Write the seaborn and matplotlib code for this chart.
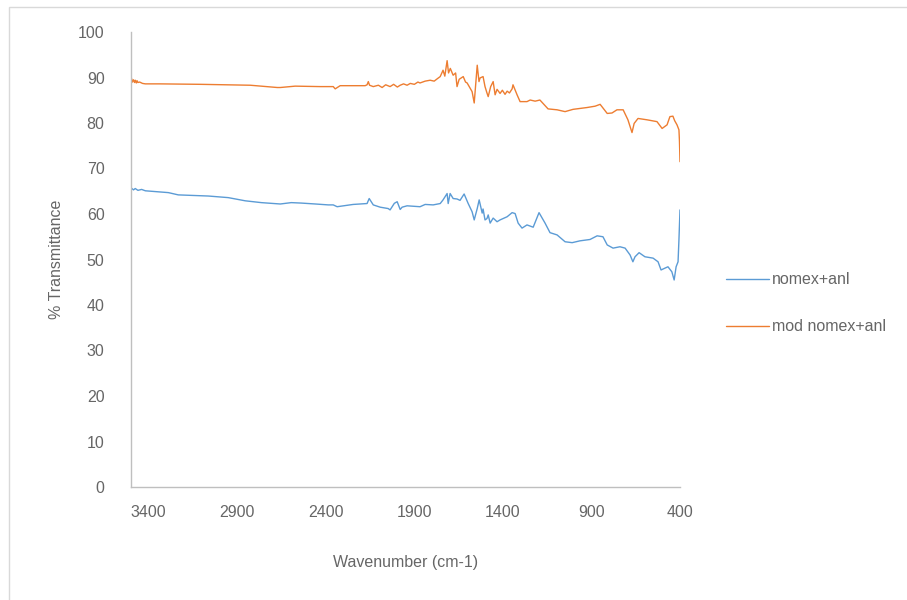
import numpy as np
import pandas as pd
import matplotlib
matplotlib.use("Agg")
import matplotlib.pyplot as plt
import seaborn as sns
from matplotlib.patches import Rectangle

# FTIR spectra (wavenumber cm-1, % transmittance)
wn_blue = [3498, 3486, 3476, 3461, 3440, 3419, 3289, 3233, 3063, 2951, 2855, 2764, 2657, 2595, 2538, 2459,
           2386, 2358, 2336, 2246, 2167, 2155, 2132, 2093, 2048, 2037, 2013, 1997, 1980, 1969, 1941, 1868,
           1839, 1794, 1754, 1738, 1715, 1709, 1698, 1681, 1659, 1642, 1619, 1596, 1574, 1562, 1545, 1534,
           1517, 1512, 1501, 1490, 1483, 1472, 1455, 1433, 1416, 1376, 1348, 1331, 1314, 1292, 1264, 1229,
           1196, 1162, 1134, 1094, 1049, 1009, 965, 908, 868, 835, 811, 778, 739, 710, 682, 666, 654, 631,
           598, 552, 524, 507, 485, 468, 446, 433, 422, 411, 406, 400]
t_blue = [65.7, 65.3, 65.6, 65.2, 65.4, 65.1, 64.7, 64.2, 63.95, 63.6, 62.9, 62.5, 62.2, 62.5, 62.4, 62.2,
          62.0, 62.0, 61.6, 62.1, 62.3, 63.4, 62.0, 61.5, 61.2, 60.9, 62.35, 62.7, 61.0, 61.5, 61.8, 61.6,
          62.1, 62.0, 62.3, 63.1, 64.5, 62.3, 64.5, 63.4, 63.3, 63.0, 64.4, 62.3, 60.5, 58.7, 61.2, 63.1,
          60.2, 61.1, 58.7, 59.0, 59.8, 58.0, 59.1, 58.3, 58.7, 59.4, 60.3, 60.1, 58.0, 56.9, 57.6, 57.1,
          60.3, 58.0, 55.9, 55.4, 53.9, 53.7, 54.1, 54.4, 55.2, 55.0, 53.2, 52.5, 52.8, 52.5, 51.0, 49.5,
          50.6, 51.5, 50.6, 50.3, 49.5, 47.7, 48.1, 48.4, 47.3, 45.5, 48.4, 49.5, 54.3, 60.9]

wn_orange = [3498, 3492, 3486, 3480, 3476, 3470, 3466, 3461, 3451, 3435, 3419, 3339, 3109, 2826, 2674, 2657,
             2573, 2431, 2358, 2347, 2319, 2178, 2167, 2160, 2153, 2132, 2103, 2082, 2062, 2037, 2017, 1996,
             1980, 1961, 1941, 1923, 1900, 1880, 1868, 1839, 1811, 1788, 1768, 1754, 1738, 1728, 1715, 1707,
             1697, 1681, 1667, 1659, 1647, 1624, 1611, 1602, 1574, 1562, 1545, 1535, 1529, 1512, 1501, 1490,
             1483, 1469, 1455, 1444, 1433, 1416, 1403, 1388, 1376, 1363, 1348, 1343, 1320, 1303, 1264, 1246,
             1218, 1191, 1145, 1094, 1049, 1004, 925, 879, 851, 811, 784, 756, 721, 694, 671, 659, 637, 586,
             530, 501, 473, 457, 440, 430, 417, 406, 403, 400]
t_orange = [89.9, 89.0, 89.5, 88.9, 89.4, 88.8, 89.3, 88.9, 89.0, 88.7, 88.6, 88.6, 88.5, 88.3, 87.8, 87.8,
            88.1, 88.0, 88.0, 87.5, 88.2, 88.2, 88.4, 89.1, 88.3, 88.0, 88.3, 87.8, 88.4, 88.0, 88.5, 87.9,
            88.3, 88.6, 88.3, 88.7, 88.5, 89.0, 88.8, 89.2, 89.4, 89.2, 89.8, 90.2, 91.6, 90.3, 93.7, 91.0,
            92.0, 90.5, 91.0, 88.0, 89.6, 90.2, 89.0, 88.8, 86.9, 84.4, 92.7, 89.1, 89.9, 90.2, 88.0, 86.6,
            85.8, 88.0, 89.1, 86.2, 87.4, 86.5, 87.2, 86.3, 87.0, 86.6, 87.5, 88.4, 86.2, 84.7, 84.7, 85.05,
            84.8, 85.05, 83.1, 82.9, 82.5, 83.0, 83.4, 83.7, 84.1, 82.1, 82.2, 82.9, 82.9, 80.7, 77.9, 79.9,
            81.0, 80.7, 80.3, 78.8, 79.6, 81.4, 81.5, 80.5, 79.6, 78.5, 76.0, 71.5]

series_names = ["nomex+anl", "mod nomex+anl"]
x_ticks = [3400, 2900, 2400, 1900, 1400, 900, 400]
y_ticks = list(range(0, 101, 10))

df = pd.concat([
    pd.DataFrame({"wn": wn_blue, "T": t_blue, "sample": series_names[0]}),
    pd.DataFrame({"wn": wn_orange, "T": t_orange, "sample": series_names[1]}),
], ignore_index=True)

sns.set_style("white")
plt.rcParams['font.family'] = ['Liberation Sans', 'DejaVu Sans']
txt = '#666666'
grey = '#BFBFBF'

fig = plt.figure(figsize=(9.07, 6.0), dpi=100)
ax = fig.add_axes([131/907, 1-487/600, 549/907, 455/600])

sns.lineplot(data=df, x="wn", y="T", hue="sample", hue_order=series_names,
             palette=['#5B9BD5', '#ED7D31'], estimator=None, sort=False,
             linewidth=1.0, ax=ax)

ax.set_xlim(3500, 400)
ax.set_ylim(0, 100)
ax.set_xticks(x_ticks)
ax.set_yticks(y_ticks)
ax.tick_params(axis='both', colors=grey, labelcolor=txt, labelsize=11.5,
               length=5, width=1, direction='out')
ax.tick_params(axis='x', pad=8)
ax.tick_params(axis='y', pad=14)
for s in ['top', 'right']:
    ax.spines[s].set_visible(False)
for s in ['left', 'bottom']:
    ax.spines[s].set_color(grey)
    ax.spines[s].set_linewidth(1)

ax.set_xlabel("Wavenumber (cm-1)", color=txt, fontsize=11.5, labelpad=25)
ax.set_ylabel("% Transmittance", color=txt, fontsize=11.5, labelpad=10)

h, l = ax.get_legend_handles_labels()
ax.legend(h, l, loc='center left', bbox_to_anchor=(1.069, 0.404), frameon=False,
          fontsize=11.5, labelcolor=txt, handlelength=2.7, handletextpad=0.2,
          labelspacing=2.0, borderpad=0)

# light chart-area border
fig.patches.append(Rectangle((9/907, -0.01), 1.0, 1-7/600 + 0.01, transform=fig.transFigure,
                             fill=False, edgecolor='#D9D9D9', linewidth=1))

fig.savefig("out.png", dpi=100)
